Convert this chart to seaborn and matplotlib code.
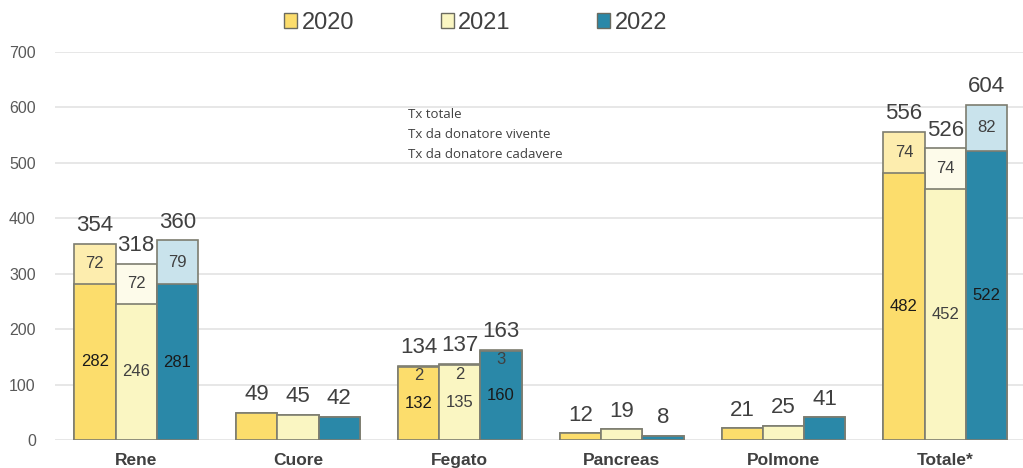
import numpy as np
import pandas as pd
import matplotlib
matplotlib.use('Agg')
import matplotlib.pyplot as plt
import seaborn as sns
from matplotlib.patches import Patch

# =====================
# DATA
# =====================
organi = ['Rene', 'Cuore', 'Fegato', 'Pancreas', 'Polmone', 'Totale*']
anni = ['2020', '2021', '2022']

tot_2020 = [354, 49, 134, 12, 21, 556]
tot_2021 = [318, 45, 137, 19, 25, 526]
tot_2022 = [360, 42, 163, 8, 41, 604]

viv_2020 = [72, 0, 2, 0, 0, 74]
viv_2021 = [72, 0, 2, 0, 0, 74]
viv_2022 = [79, 0, 3, 0, 0, 82]

cad_2020 = [282, 49, 132, 12, 21, 482]
cad_2021 = [246, 45, 135, 19, 25, 452]
cad_2022 = [281, 42, 160, 8, 41, 522]

note_righe = ['Tx totale', 'Tx da donatore vivente', 'Tx da donatore cadavere']

# colori: parte cadavere (sotto) e vivente (sopra)
col_cad = ['#FCDD6C', '#FAF6C2', '#2A88A8']
col_viv = ['#FDEDAE', '#FDFBEA', '#C9E3EC']

rows = []
for anno, tt, vv, cc in zip(anni, [tot_2020, tot_2021, tot_2022],
                             [viv_2020, viv_2021, viv_2022],
                             [cad_2020, cad_2021, cad_2022]):
    for org, t, v, c in zip(organi, tt, vv, cc):
        rows.append({'organo': org, 'anno': anno, 'totale': t, 'vivente': v, 'cadavere': c})
df = pd.DataFrame(rows)

# =====================
# GRAFICO
# =====================
sns.set_style('white')
plt.rcParams['font.family'] = ['Liberation Sans', 'DejaVu Sans']

fig = plt.figure(figsize=(10.23, 4.68), dpi=100)
ax = fig.add_axes([0.054, 0.0598, 0.946, 0.829])

W = 0.765
# totale (colore vivente) sotto, poi cadavere sopra -> barra impilata
sns.barplot(data=df, x='organo', y='totale', hue='anno', palette=col_viv,
            width=W, gap=0, saturation=1, edgecolor='#7d7d70', linewidth=1.2,
            legend=False, ax=ax)
sns.barplot(data=df, x='organo', y='cadavere', hue='anno', palette=col_cad,
            width=W, gap=0, saturation=1, edgecolor='#7d7d70', linewidth=1.2,
            legend=False, ax=ax)

ax.set_xlim(-0.5, 5.48)
ax.set_ylim(0, 700)
ax.set_yticks(range(0, 701, 100))
ax.yaxis.grid(True, color='#e3e3e3', linewidth=1.2)
ax.set_axisbelow(True)
for s in ax.spines.values():
    s.set_visible(False)
ax.set_xlabel('')
ax.set_ylabel('')
ax.tick_params(axis='y', length=0, labelsize=11.5, labelcolor='#595959', pad=14)
ax.tick_params(axis='x', length=0, labelsize=12.5, labelcolor='#404040', pad=9)
for lab in ax.get_xticklabels():
    lab.set_fontweight('bold')

# etichette
bw = W / 3
for i, anno in enumerate(anni):
    sub = df[df['anno'] == anno].reset_index(drop=True)
    for j, r in sub.iterrows():
        x = j - W / 2 + bw * (i + 0.5)
        ax.text(x, r['totale'] + 14, str(r['totale']), ha='center', va='bottom',
                fontsize=16, color='#404040')
        if r['vivente'] > 0:
            ax.text(x, r['cadavere'] / 2, str(r['cadavere']), ha='center', va='center',
                    fontsize=12, color='#1a1a1a' if i != 1 else '#404040')
            ax.text(x, r['cadavere'] + r['vivente'] / 2 - (17 if r['vivente'] < 10 else 0),
                    str(r['vivente']), ha='center', va='center',
                    fontsize=12, color='#404040')

# nota testuale
for k, riga in enumerate(note_righe):
    fig.text(408 / 1023, 1 - (115 + 19.5 * k) / 468, riga, fontsize=9.5,
             color='#404040', family=['Open Sans', 'DejaVu Sans'], va='center')

# legenda
handles = [Patch(facecolor=c, edgecolor='#6b6b60', linewidth=1) for c in col_cad]
fig.legend(handles, anni, loc='center', bbox_to_anchor=(0.465, 0.951), ncol=3,
           frameon=False, fontsize=17, handlelength=0.55, handleheight=0.55,
           handletextpad=0.2, columnspacing=3.65, labelcolor='#404040')

fig.savefig('out.png', dpi=100)
